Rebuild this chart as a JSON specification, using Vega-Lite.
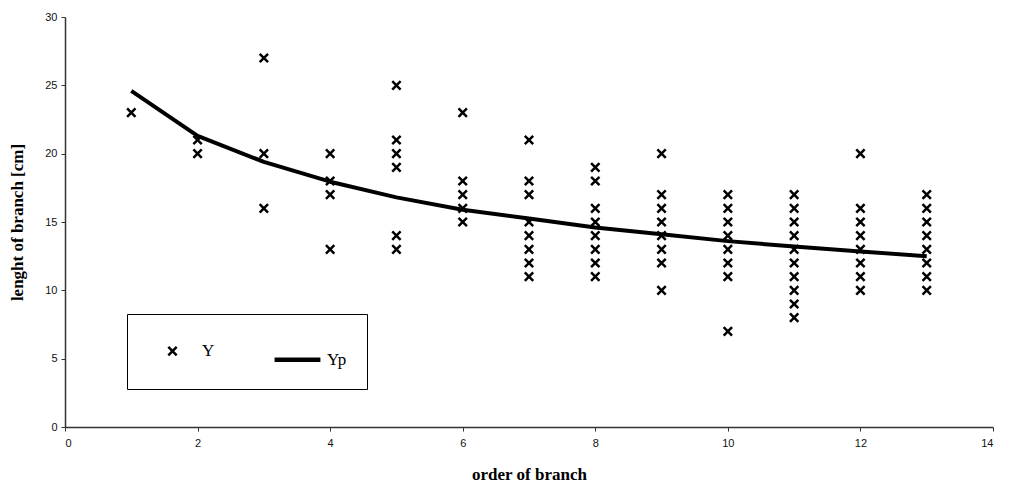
{
  "$schema": "https://vega.github.io/schema/vega-lite/v6.json",
  "width": 928,
  "height": 410,
  "padding": {"left": 65, "top": 17, "right": 16, "bottom": 56},
  "autosize": {"type": "none"},
  "background": "white",
  "config": {
    "view": {"stroke": null},
    "axis": {
      "grid": false,
      "domainColor": "#333333",
      "domainWidth": 1.5,
      "tickColor": "#333333",
      "tickSize": 4,
      "labelFont": "Liberation Sans",
      "labelFontSize": 11,
      "labelColor": "#111111",
      "titleFont": "Liberation Serif",
      "titleFontSize": 17,
      "titleFontWeight": "bold",
      "titleColor": "#000000"
    }
  },
  "datasets": {
    "obs": [
      {"x": 1, "y": 23, "series": "Y"},
      {"x": 2, "y": 21, "series": "Y"}, {"x": 2, "y": 20, "series": "Y"},
      {"x": 3, "y": 27, "series": "Y"}, {"x": 3, "y": 20, "series": "Y"}, {"x": 3, "y": 16, "series": "Y"},
      {"x": 4, "y": 20, "series": "Y"}, {"x": 4, "y": 18, "series": "Y"}, {"x": 4, "y": 17, "series": "Y"}, {"x": 4, "y": 13, "series": "Y"},
      {"x": 5, "y": 25, "series": "Y"}, {"x": 5, "y": 21, "series": "Y"}, {"x": 5, "y": 20, "series": "Y"}, {"x": 5, "y": 19, "series": "Y"}, {"x": 5, "y": 14, "series": "Y"}, {"x": 5, "y": 13, "series": "Y"},
      {"x": 6, "y": 23, "series": "Y"}, {"x": 6, "y": 18, "series": "Y"}, {"x": 6, "y": 17, "series": "Y"}, {"x": 6, "y": 16, "series": "Y"}, {"x": 6, "y": 15, "series": "Y"},
      {"x": 7, "y": 21, "series": "Y"}, {"x": 7, "y": 18, "series": "Y"}, {"x": 7, "y": 17, "series": "Y"}, {"x": 7, "y": 15, "series": "Y"}, {"x": 7, "y": 14, "series": "Y"}, {"x": 7, "y": 13, "series": "Y"}, {"x": 7, "y": 12, "series": "Y"}, {"x": 7, "y": 11, "series": "Y"},
      {"x": 8, "y": 19, "series": "Y"}, {"x": 8, "y": 18, "series": "Y"}, {"x": 8, "y": 16, "series": "Y"}, {"x": 8, "y": 15, "series": "Y"}, {"x": 8, "y": 14, "series": "Y"}, {"x": 8, "y": 13, "series": "Y"}, {"x": 8, "y": 12, "series": "Y"}, {"x": 8, "y": 11, "series": "Y"},
      {"x": 9, "y": 20, "series": "Y"}, {"x": 9, "y": 17, "series": "Y"}, {"x": 9, "y": 16, "series": "Y"}, {"x": 9, "y": 15, "series": "Y"}, {"x": 9, "y": 14, "series": "Y"}, {"x": 9, "y": 13, "series": "Y"}, {"x": 9, "y": 12, "series": "Y"}, {"x": 9, "y": 10, "series": "Y"},
      {"x": 10, "y": 17, "series": "Y"}, {"x": 10, "y": 16, "series": "Y"}, {"x": 10, "y": 15, "series": "Y"}, {"x": 10, "y": 14, "series": "Y"}, {"x": 10, "y": 13, "series": "Y"}, {"x": 10, "y": 12, "series": "Y"}, {"x": 10, "y": 11, "series": "Y"}, {"x": 10, "y": 7, "series": "Y"},
      {"x": 11, "y": 17, "series": "Y"}, {"x": 11, "y": 16, "series": "Y"}, {"x": 11, "y": 15, "series": "Y"}, {"x": 11, "y": 14, "series": "Y"}, {"x": 11, "y": 13, "series": "Y"}, {"x": 11, "y": 12, "series": "Y"}, {"x": 11, "y": 11, "series": "Y"}, {"x": 11, "y": 10, "series": "Y"}, {"x": 11, "y": 9, "series": "Y"}, {"x": 11, "y": 8, "series": "Y"},
      {"x": 12, "y": 20, "series": "Y"}, {"x": 12, "y": 16, "series": "Y"}, {"x": 12, "y": 15, "series": "Y"}, {"x": 12, "y": 14, "series": "Y"}, {"x": 12, "y": 13, "series": "Y"}, {"x": 12, "y": 12, "series": "Y"}, {"x": 12, "y": 11, "series": "Y"}, {"x": 12, "y": 10, "series": "Y"},
      {"x": 13, "y": 17, "series": "Y"}, {"x": 13, "y": 16, "series": "Y"}, {"x": 13, "y": 15, "series": "Y"}, {"x": 13, "y": 14, "series": "Y"}, {"x": 13, "y": 13, "series": "Y"}, {"x": 13, "y": 12, "series": "Y"}, {"x": 13, "y": 11, "series": "Y"}, {"x": 13, "y": 10, "series": "Y"}
    ],
    "fit": [
      {"x": 1, "yp": 24.6}, {"x": 2, "yp": 21.3}, {"x": 3, "yp": 19.4}, {"x": 4, "yp": 17.95},
      {"x": 5, "yp": 16.8}, {"x": 6, "yp": 15.9}, {"x": 7, "yp": 15.25}, {"x": 8, "yp": 14.6},
      {"x": 9, "yp": 14.1}, {"x": 10, "yp": 13.6}, {"x": 11, "yp": 13.2}, {"x": 12, "yp": 12.85},
      {"x": 13, "yp": 12.5}
    ]
  },
  "layer": [
    {
      "data": {"name": "fit"},
      "mark": {"type": "line", "color": "black", "strokeWidth": 4, "strokeJoin": "round"},
      "encoding": {
        "x": {"field": "x", "type": "quantitative", "scale": {"domain": [0, 14], "nice": false}, "axis": {"values": [0, 2, 4, 6, 8, 10, 12, 14], "format": "d", "title": "order of branch", "titlePadding": 18, "labelPadding": 6}},
        "y": {"field": "yp", "type": "quantitative", "scale": {"domain": [0, 30], "nice": false}, "axis": {"values": [0, 5, 10, 15, 20, 25, 30], "format": "d", "title": "lenght of branch [cm]", "titlePadding": 18, "labelPadding": 4}}
      }
    },
    {
      "data": {"name": "obs"},
      "mark": {"type": "point", "filled": false, "color": "black", "strokeWidth": 2.5, "opacity": 1},
      "encoding": {
        "x": {"field": "x", "type": "quantitative"},
        "y": {"field": "y", "type": "quantitative"},
        "size": {
          "field": "series",
          "type": "ordinal",
          "scale": {"domain": ["Y", "Yp"], "range": [70, 2100]}
        },
        "strokeWidth": {
          "field": "series",
          "type": "ordinal",
          "scale": {"domain": ["Y", "Yp"], "range": [2.5, 4.5]}
        },
        "shape": {
          "field": "series",
          "type": "ordinal",
          "scale": {"domain": ["Y", "Yp"], "range": ["M-1,-1L1,1M-1,1L1,-1", "stroke"]},
          "legend": {
            "title": null,
            "orient": "none",
            "legendX": 62,
            "legendY": 297,
            "direction": "horizontal",
            "columns": 2,
            "strokeColor": "black",
            "padding": 20,
            "columnPadding": 50,
            "symbolStrokeColor": "black",
            "symbolFillColor": "transparent",
            "labelFont": "Liberation Serif",
            "labelFontSize": 17,
            "labelColor": "black",
            "labelOffset": 4
          }
        }
      }
    }
  ]
}
